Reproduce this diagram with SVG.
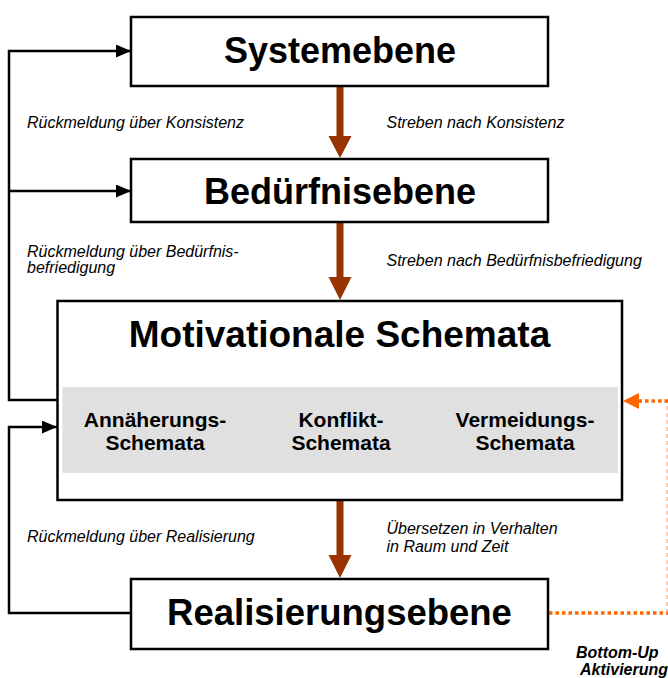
<svg xmlns="http://www.w3.org/2000/svg" width="668" height="678" viewBox="0 0 668 678">
<defs>
<style>
.box{fill:#fff;stroke:#000;stroke-width:2.5}
.title{font-family:"Liberation Sans",Arial,sans-serif;font-weight:bold;text-anchor:middle;fill:#000}
.sub{font-family:"Liberation Sans",Arial,sans-serif;font-weight:bold;font-size:21px;text-anchor:middle;fill:#000}
.lab{font-family:"Liberation Sans",Arial,sans-serif;font-style:italic;font-size:16px;fill:#000}
.labb{font-family:"Liberation Sans",Arial,sans-serif;font-style:italic;font-weight:bold;font-size:16px;fill:#000}
.fb{fill:none;stroke:#000;stroke-width:2.5}
.down{fill:#993300}
.dot{fill:none;stroke:#ff6600;stroke-width:3.5;stroke-dasharray:3.5 3}
.thin{fill:none;stroke:#ff9955;stroke-width:1;stroke-dasharray:4 3}
</style>
<marker id="ah" viewBox="0 0 15 13" refX="15" refY="6.5" markerWidth="15" markerHeight="13" markerUnits="userSpaceOnUse" orient="auto">
<path d="M0,0 L15,6.5 L0,13 Z" fill="#000"/>
</marker>
</defs>

<g id="connectors">
<!-- feedback loops -->
<path class="fb" d="M57,400 H9 V51 H131" marker-end="url(#ah)"/>
<path class="fb" d="M9,191 H131" marker-end="url(#ah)"/>
<path class="fb" d="M131,613 H9 V427 H57" marker-end="url(#ah)"/>
<!-- downward arrows -->
<path class="down" d="M336.5,86 H343.5 V136 H351.5 L340,158 L328.5,136 H336.5 Z"/>
<path class="down" d="M336.5,222 H343.5 V277 H351.5 L340,300 L328.5,277 H336.5 Z"/>
<path class="down" d="M336.5,500 H343.5 V555 H351.5 L340,578 L328.5,555 H336.5 Z"/>
<!-- bottom-up activation -->
<path class="dot" d="M549,613 H668"/>
<path class="thin" d="M667,613 V401"/>
<path class="dot" d="M668,401 H638"/>
<path d="M623,401 L639,393 L639,409 Z" fill="#ff6600"/>
</g>

<g id="systemebene">
<rect class="box" x="131" y="17" width="417" height="69"/>
<text class="title" x="340" y="63" font-size="36">Systemebene</text>
</g>

<g id="beduerfnisebene">
<rect class="box" x="131" y="159" width="417" height="63"/>
<text class="title" x="340" y="204" font-size="36">Bedürfnisebene</text>
</g>

<g id="motivationale-schemata">
<rect class="box" x="57.5" y="301" width="564.5" height="199"/>
<text class="title" x="339.5" y="347" font-size="37">Motivationale Schemata</text>
<rect x="62.5" y="387" width="555.5" height="86" fill="#e0e0e0"/>
<g id="annaeherungs-schemata">
<text class="sub" x="155" y="427">Annäherungs-</text>
<text class="sub" x="155" y="450">Schemata</text>
</g>
<g id="konflikt-schemata">
<text class="sub" x="341" y="427">Konflikt-</text>
<text class="sub" x="341" y="450">Schemata</text>
</g>
<g id="vermeidungs-schemata">
<text class="sub" x="525" y="427">Vermeidungs-</text>
<text class="sub" x="525" y="450">Schemata</text>
</g>
</g>

<g id="realisierungsebene">
<rect class="box" x="131" y="579" width="417" height="70"/>
<text class="title" x="339.5" y="625" font-size="36.5">Realisierungsebene</text>
</g>

<g id="labels">
<text class="lab" x="27" y="128">Rückmeldung über Konsistenz</text>
<text class="lab" x="386.5" y="128">Streben nach Konsistenz</text>
<text class="lab" x="27" y="257">Rückmeldung über Bedürfnis-</text>
<text class="lab" x="27" y="273">befriedigung</text>
<text class="lab" x="386.5" y="266">Streben nach Bedürfnisbefriedigung</text>
<text class="lab" x="27" y="542">Rückmeldung über Realisierung</text>
<text class="lab" x="386.5" y="534">Übersetzen in Verhalten</text>
<text class="lab" x="386.5" y="552">in Raum und Zeit</text>
<text class="labb" x="576" y="658">Bottom-Up</text>
<text class="labb" x="580" y="675">Aktivierung</text>
</g>
</svg>
